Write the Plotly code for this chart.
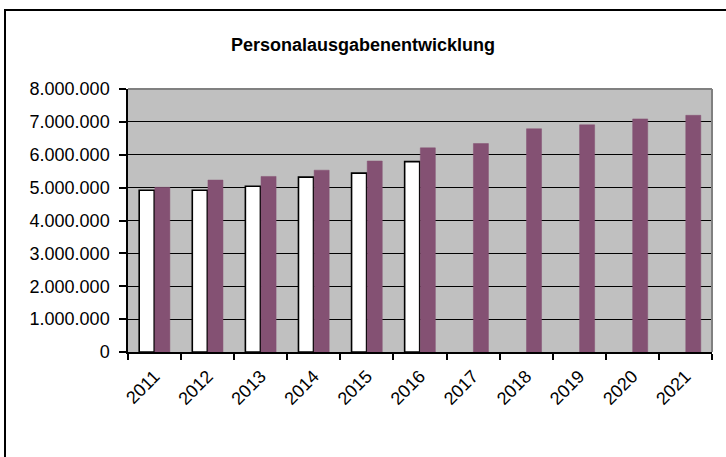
import plotly.graph_objects as go

years = ["2011", "2012", "2013", "2014", "2015", "2016", "2017", "2018", "2019", "2020", "2021"]
ist_values = [4920000, 4920000, 5040000, 5320000, 5440000, 5790000, None, None, None, None, None]
plan_values = [5010000, 5230000, 5340000, 5530000, 5810000, 6210000, 6340000, 6790000, 6910000, 7090000, 7200000]
y_ticks = [0, 1000000, 2000000, 3000000, 4000000, 5000000, 6000000, 7000000, 8000000]
title_text = "Personalausgabenentwicklung"

W, H = 726, 457
L, R, T, B = 128, 712, 89, 352

def px_x(px):
    return (px - L) / (R - L)

def px_y(py):
    return (B - py) / (B - T)

fig = go.Figure()
fig.add_trace(go.Bar(
    x=years, y=ist_values, name="Ist",
    marker=dict(color="#FFFFFF", line=dict(color="#000000", width=1.6)),
))
fig.add_trace(go.Bar(
    x=years, y=plan_values, name="Plan",
    marker=dict(color="#845173", line=dict(color="#845173", width=0.5)),
))

fig.update_layout(
    width=W, height=H,
    margin=dict(l=L, r=W - R, t=T, b=H - B, pad=0),
    paper_bgcolor="#FFFFFF",
    plot_bgcolor="#C0C0C0",
    barmode="group",
    bargap=0.41,
    bargroupgap=0.04,
    showlegend=False,
    separators=",.",
    font=dict(family="Liberation Sans, Arial, sans-serif", size=18, color="#000000"),
    title=dict(
        text="<b>" + title_text + "</b>",
        x=0.5, xref="container", xanchor="center",
        y=1 - 45 / H, yref="container", yanchor="middle",
        font=dict(size=18, family="Liberation Sans, Arial, sans-serif", color="#000000"),
    ),
    xaxis=dict(
        type="category",
        automargin=False,
        showline=True, linecolor="#000000", linewidth=1.5,
        ticks="outside", ticklen=6, tickcolor="#000000", tickwidth=1.5,
        tickson="boundaries",
        tickangle=-45,
        ticklabelstandoff=5,
        tickfont=dict(size=18),
        showgrid=False,
        zeroline=False,
    ),
    yaxis=dict(
        range=[0, 8000000],
        automargin=False,
        tickvals=y_ticks,
        tickformat=",d",
        showline=True, linecolor="#000000", linewidth=1.5,
        ticks="outside", ticklen=7, tickcolor="#000000", tickwidth=1.5,
        ticklabelstandoff=6,
        tickfont=dict(size=18),
        showgrid=True, gridcolor="#000000", gridwidth=1.4,
        zeroline=False,
    ),
    shapes=[
        dict(type="line", xref="paper", yref="paper", x0=0, x1=1, y0=1, y1=1,
             line=dict(color="#808080", width=2), layer="above"),
        dict(type="line", xref="paper", yref="paper", x0=1, x1=1, y0=0, y1=1,
             line=dict(color="#808080", width=2), layer="above"),
        dict(type="rect", xref="paper", yref="paper",
             x0=px_x(5), x1=px_x(740), y0=px_y(470), y1=px_y(10),
             line=dict(color="#000000", width=2), fillcolor="rgba(0,0,0,0)", layer="above"),
    ],
)

fig.write_html("out.html", config={"displayModeBar": False},
               post_script="document.body.style.margin='0px';")
